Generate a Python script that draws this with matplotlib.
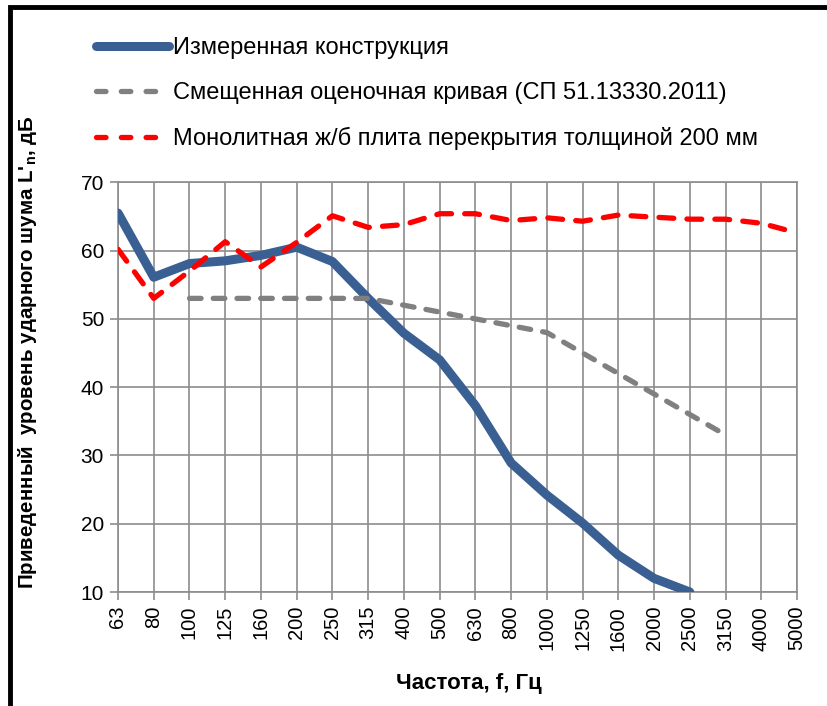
import matplotlib
matplotlib.use("Agg")
import matplotlib.pyplot as plt
from matplotlib.lines import Line2D
from matplotlib.patches import Rectangle
import numpy as np

plt.rcParams['font.family'] = ['Liberation Sans', 'DejaVu Sans']

freqs = ["63", "80", "100", "125", "160", "200", "250", "315", "400", "500",
         "630", "800", "1000", "1250", "1600", "2000", "2500", "3150", "4000", "5000"]

measured = [65.5, 56.1, 58.1, 58.5, 59.3, 60.5, 58.4, 53.0, 47.9, 44.0,
            37.3, 28.9, 24.2, 20.1, 15.4, 12.0, 10.0]
reference = [53, 53, 53, 53, 53, 53, 52, 51, 50, 49, 48, 45, 42, 39, 36, 33]
reference_start = 2
slab = [60.2, 53.0, 57.0, 61.3, 57.6, 61.2, 65.1, 63.4, 63.8, 65.4,
        65.4, 64.4, 64.8, 64.3, 65.2, 64.9, 64.6, 64.6, 64.0, 62.6]

labels = ["Измеренная конструкция",
          "Смещенная оценочная кривая (СП 51.13330.2011)",
          "Монолитная ж/б плита перекрытия толщиной 200 мм"]

W, H = 827, 706
fig = plt.figure(figsize=(W / 100, H / 100), dpi=100)
ax = fig.add_axes([118 / W, 1 - 592 / H, (797 - 118) / W, (592 - 182.3) / H])

x_all = np.arange(len(freqs))
blue = "#3a5f93"
gray = "#808080"
red = "#ff0000"

l1, = ax.plot(x_all[:len(measured)], measured, color=blue, lw=6.5,
              solid_capstyle='round', solid_joinstyle='round', zorder=3)
l2, = ax.plot(x_all[reference_start:reference_start + len(reference)], reference,
              color=gray, lw=3.8, dashes=(2.2, 2.3), dash_capstyle='round', zorder=3)
l3, = ax.plot(x_all, slab, color=red, lw=3.8, dashes=(2.8, 2.5),
              dash_capstyle='round', zorder=3)

ax.set_xlim(0, len(freqs) - 1)
ax.set_ylim(10, 70)
ax.set_xticks(x_all)
ax.set_xticklabels(freqs, rotation=90, fontsize=14.5)
ax.set_yticks(np.arange(10, 71, 10))
ax.tick_params(axis='y', labelsize=15, length=6, width=1.2, color="#8c8c8c", pad=4)
ax.tick_params(axis='x', length=6, width=1.2, color="#8c8c8c", pad=4)
ax.grid(True, color="#8c8c8c", lw=1.2)
ax.set_axisbelow(True)
for s in ax.spines.values():
    s.set_color("#8c8c8c")
    s.set_linewidth(1.2)

fig.text(28 / W, 1 - 352 / H, "Приведенный  уровень ударного шума L'$_\\mathregular{n}$, дБ",
         rotation=90, ha='center', va='center', fontsize=14.8, fontweight='bold')
fig.text(469 / W, 1 - 683 / H, "Частота, f, Гц", ha='center', va='center',
         fontsize=16, fontweight='bold')

leg_handles = [Line2D([], [], color=blue, lw=6.5, solid_capstyle='round'),
               Line2D([], [], color=gray, lw=3.8, dashes=(1.8, 2.9), dash_capstyle='round'),
               Line2D([], [], color=red, lw=3.8, dashes=(1.8, 2.9), dash_capstyle='round')]
fig.legend(leg_handles, labels, loc='upper left', bbox_to_anchor=(96 / W, 1 - 37 / H),
           frameon=False, fontsize=17, handlelength=3.1, handletextpad=0.15,
           labelspacing=0.97, borderpad=0, borderaxespad=0)

# outer frame (top and left edges visible)
fig.patches.append(Rectangle((10 / W, -0.05), 1.2, 1 - 6.5 / H + 0.05, transform=fig.transFigure,
                             fill=False, edgecolor='black', lw=3.5, zorder=10))

fig.savefig("out.png", dpi=100)
